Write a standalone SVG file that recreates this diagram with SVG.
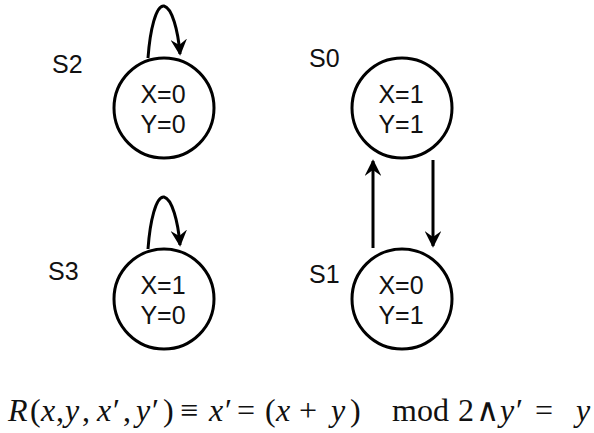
<svg xmlns="http://www.w3.org/2000/svg" width="594" height="433" viewBox="0 0 594 433">
<style>
.st{fill:#fff;stroke:#000;stroke-width:3}
.t{font-family:"Liberation Sans",Arial,sans-serif;font-size:25px;fill:#111;text-anchor:middle}
.lb{font-family:"Liberation Sans",Arial,sans-serif;font-size:25px;fill:#111}
.c{fill:none;stroke:#000;stroke-width:3}
.f{font-family:"Liberation Serif","DejaVu Serif",serif;font-size:32px;fill:#111}
.i{font-style:italic}
</style>
<defs>
<marker id="ah" viewBox="0 0 10 10" refX="9" refY="5" markerWidth="5.5" markerHeight="5.5" orient="auto" markerUnits="strokeWidth">
<path d="M0,0 L10,5 L0,10 L3.5,5 z" fill="#000"/>
</marker>
</defs>
<rect width="594" height="433" fill="#fff"/>
<g id="connectors">
<path class="c" d="M148,58 C150,30 156,5 164,6 C172,8 178,30 180,54" marker-end="url(#ah)"/>
<path class="c" d="M148,249 C150,221 156,196 164,197 C172,199 178,221 180,245" marker-end="url(#ah)"/>
<line class="c" x1="373" y1="248" x2="373" y2="161" marker-end="url(#ah)"/>
<line class="c" x1="433" y1="160" x2="433" y2="246" marker-end="url(#ah)"/>
</g>
<g id="S2">
<circle class="st" cx="164" cy="108" r="50"/>
<text class="t" x="163" y="103">X=0</text>
<text class="t" x="163" y="133">Y=0</text>
<text class="lb" x="52" y="73">S2</text>
</g>
<g id="S0">
<circle class="st" cx="402" cy="108" r="50"/>
<text class="t" x="401" y="103">X=1</text>
<text class="t" x="401" y="133">Y=1</text>
<text class="lb" x="309" y="67">S0</text>
</g>
<g id="S3">
<circle class="st" cx="164" cy="299" r="50"/>
<text class="t" x="163" y="294">X=1</text>
<text class="t" x="163" y="324">Y=0</text>
<text class="lb" x="48" y="280">S3</text>
</g>
<g id="S1">
<circle class="st" cx="402" cy="299" r="50"/>
<text class="t" x="401" y="294">X=0</text>
<text class="t" x="401" y="324">Y=1</text>
<text class="lb" x="309" y="283">S1</text>
</g>
<text class="f" y="421"><tspan class="i" x="8">R</tspan><tspan x="30">(</tspan><tspan class="i" x="41">x</tspan><tspan x="56">,</tspan><tspan class="i" x="65">y</tspan><tspan x="82">,</tspan><tspan class="i" x="97">x</tspan><tspan x="113">′</tspan><tspan x="123">,</tspan><tspan class="i" x="136">y</tspan><tspan x="152">′</tspan><tspan x="163">)</tspan><tspan x="180">≡</tspan><tspan class="i" x="209">x</tspan><tspan x="225">′</tspan><tspan x="237">=</tspan><tspan x="265">(</tspan><tspan class="i" x="276">x</tspan><tspan x="299">+</tspan><tspan class="i" x="331">y</tspan><tspan x="350">)</tspan><tspan x="392">mod</tspan><tspan x="458">2</tspan><tspan x="476">∧</tspan><tspan class="i" x="500">y</tspan><tspan x="516">′</tspan><tspan x="535">=</tspan><tspan class="i" x="576">y</tspan></text>
</svg>
